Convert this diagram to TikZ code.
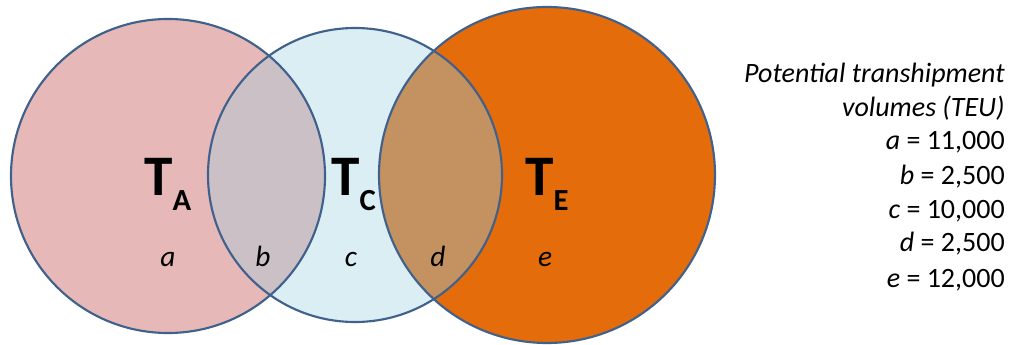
\documentclass[tikz,border=0pt]{standalone}
\usepackage{fontspec}
\setmainfont{Carlito}
\usetikzlibrary{positioning}
\definecolor{setA}{RGB}{230,184,183}
\definecolor{setC}{RGB}{218,238,243}
\definecolor{setE}{RGB}{228,108,10}
\definecolor{setAC}{RGB}{203,192,198}
\definecolor{setCE}{RGB}{196,146,96}
\definecolor{rimblue}{RGB}{64,97,140}
\tikzset{
  ring/.style={draw=rimblue, line width=1.6pt},
  setname/.style={anchor=base west, inner sep=0pt, font=\fontsize{43}{43}\selectfont\bfseries},
  region/.style={anchor=base, inner sep=0pt, font=\fontsize{22}{22}\selectfont\itshape},
  legline/.style={anchor=base east, inner sep=0pt, font=\fontsize{21}{25}\selectfont},
}
\newcommand{\radA}{117.75pt}
\newcommand{\radC}{110.25pt}
\newcommand{\radE}{126pt}
\newcommand{\subname}[1]{\raisebox{-11.25pt}{\fontsize{23}{23}\selectfont\bfseries #1}}

\begin{document}
\begin{tikzpicture}[x=0.75pt, y=-0.75pt]
  \useasboundingbox (0,0) rectangle (1009,345);
  \coordinate (cA) at (168,176);
  \coordinate (cC) at (355,175);
  \coordinate (cE) at (547,175);
  % the three sets
  \fill[setA] (cA) circle (\radA);
  \fill[setC] (cC) circle (\radC);
  \fill[setE] (cE) circle (\radE);
  % overlaps
  \begin{scope}
    \clip (cA) circle (\radA);
    \fill[setAC] (cC) circle (\radC);
  \end{scope}
  \begin{scope}
    \clip (cE) circle (\radE);
    \fill[setCE] (cC) circle (\radC);
  \end{scope}
  \draw[ring] (cA) circle (\radA);
  \draw[ring] (cC) circle (\radC);
  \draw[ring] (cE) circle (\radE);
  % set names
  \node[setname] (TA) at (144,196) {T\subname{A}};
  \node[setname] (TC) at (331,196) {T\subname{C}};
  \node[setname] (TE) at (525,196) {T\subname{E}};
  % regions
  \node[region] (ra) at (168,267) {a};
  \node[region] (rb) at (263,267) {b};
  \node[region] (rc) at (351,267) {c};
  \node[region] (rd) at (438,267) {d};
  \node[region] (re) at (545,267) {e};
  % legend
  \node[legline] (leg1) at (1005,83) {\itshape Potential transhipment};
  \node[legline] (leg2) at (1005,117) {\itshape volumes (TEU)};
  \node[legline] (leg3) at (1005,150) {\textit{a} = 11,000};
  \node[legline] (leg4) at (1005,185) {\textit{b} = 2,500};
  \node[legline] (leg5) at (1005,219) {\textit{c} = 10,000};
  \node[legline] (leg6) at (1005,252) {\textit{d} = 2,500};
  \node[legline] (leg7) at (1005,287) {\textit{e} = 12,000};
\end{tikzpicture}
\end{document}
